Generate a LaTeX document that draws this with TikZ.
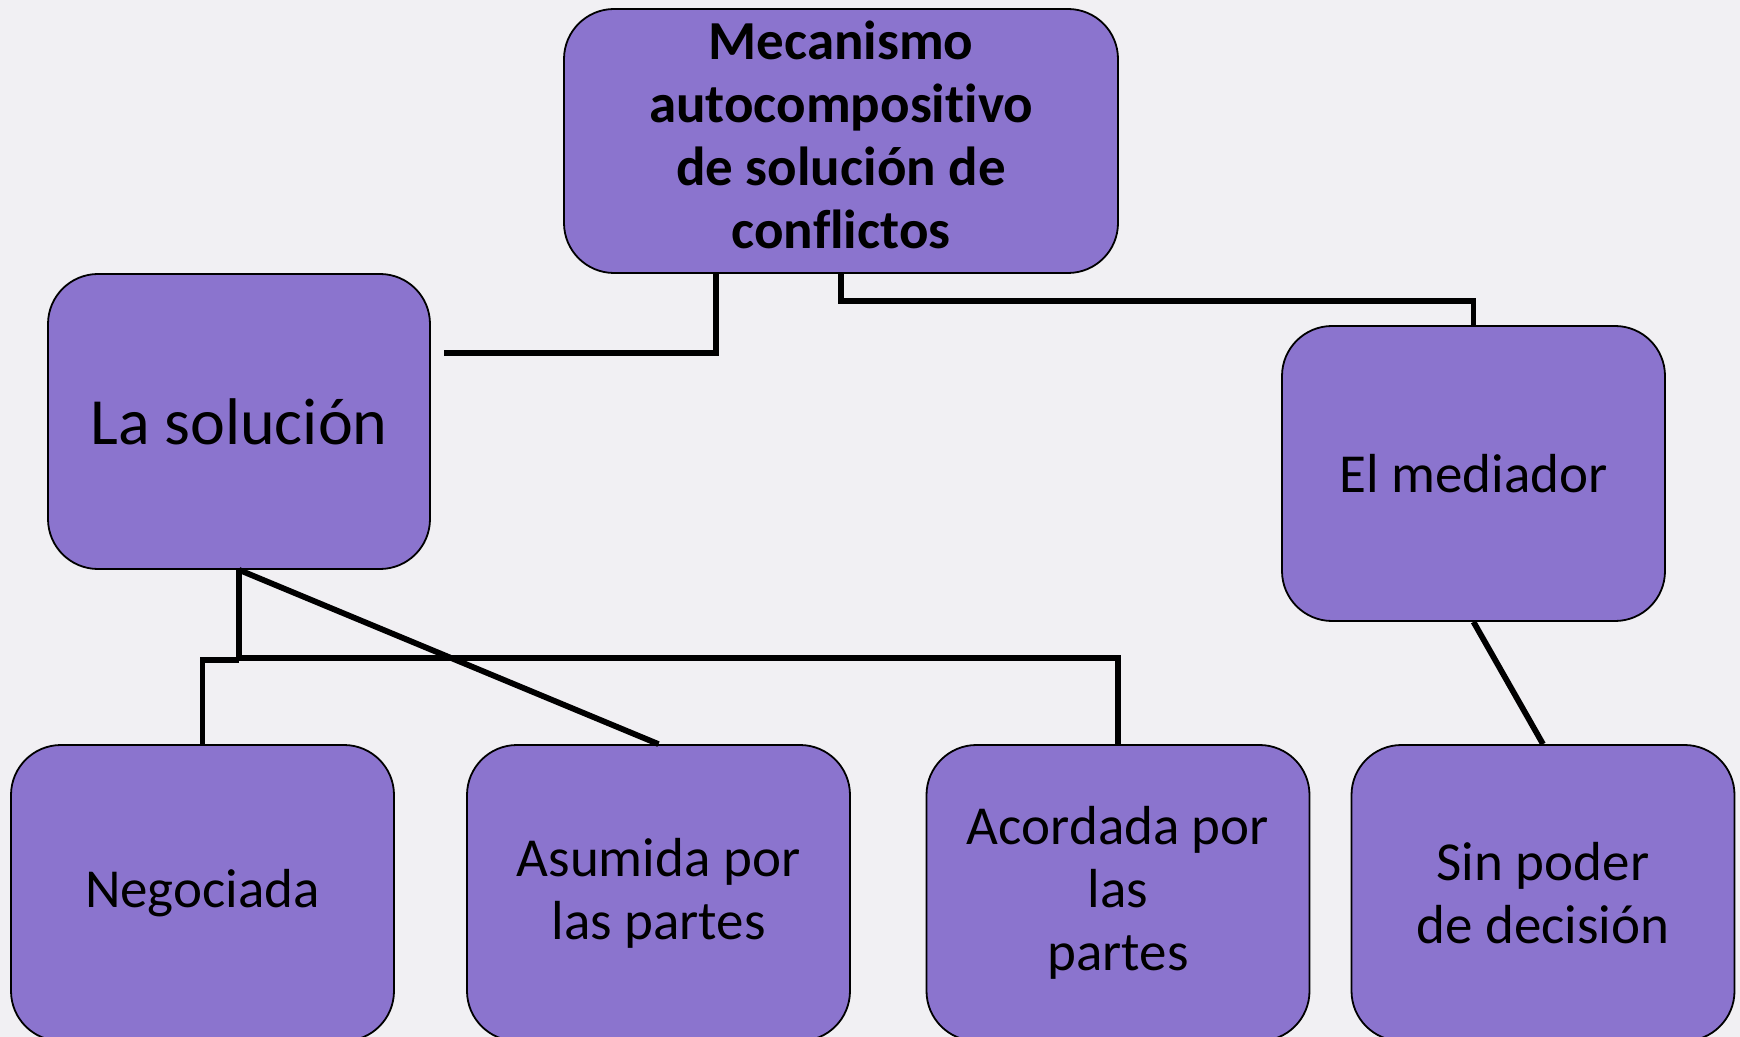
\documentclass[tikz,border=0pt]{standalone}
\usepackage{fontspec}
\setmainfont{Carlito}[Ligatures=NoCommon]
\definecolor{boxfill}{RGB}{139,116,206}
\definecolor{paper}{RGB}{241,240,243}
\tikzset{
  box/.style={draw=black, line width=0.9pt, fill=boxfill, rounded corners=25pt,
    align=center, inner sep=0pt, text=black,
    font=\fontsize{27.5pt}{31.5pt}\selectfont},
  link/.style={draw=black, line width=2.9pt}
}
\begin{document}
\begin{tikzpicture}[x=0.5pt, y=-0.5pt]
\path[use as bounding box, clip] (0,0) rectangle (1740,1037);
\fill[paper] (0,0) rectangle (1740,1037);

\node[box, minimum width=277pt, minimum height=132pt, font=\bfseries\fontsize{27.5pt}{31.5pt}\selectfont]
  (top) at (841,141) {\raisebox{3.5pt}{\begin{tabular}{@{}c@{}}Mecanismo\\autocompositivo\\de solución de\\conflictos\end{tabular}}};
\node[box, minimum width=191pt, minimum height=147.5pt, font=\fontsize{33pt}{38pt}\selectfont]
  (sol) at (239,421.5) {La solución};
\node[box, minimum width=191.5pt, minimum height=147.5pt]
  (med) at (1473.5,473.5) {El mediador};

\node[box, minimum width=191.5pt, minimum height=148pt] (neg) at (202.5,893) {Negociada};
\node[box, minimum width=191.5pt, minimum height=148pt] (asum) at (658.5,893) {Asumida por\\las partes};
\node[box, minimum width=191.5pt, minimum height=148pt] (acor) at (1118,893) {Acordada por\\las\\partes};
\node[box, minimum width=191.5pt, minimum height=148pt] (sin) at (1543,893) {Sin poder\\de decisión};

\coordinate (c1) at (444,353);
\draw[link] ([xshift=-62.5pt]top.south) |- (c1);
\draw[link] (top.south) -- ([yshift=-13.5pt]top.south) -| (med.north);
\draw[link] (sol.south) -- ([yshift=-44pt]sol.south) -| (acor.north);
\draw[link] (neg.north) |- ([yshift=-45pt]sol.south);
\draw[link] (sol.south) -- (asum.north);
\draw[link] (med.south) -- (sin.north);
\end{tikzpicture}
\end{document}
